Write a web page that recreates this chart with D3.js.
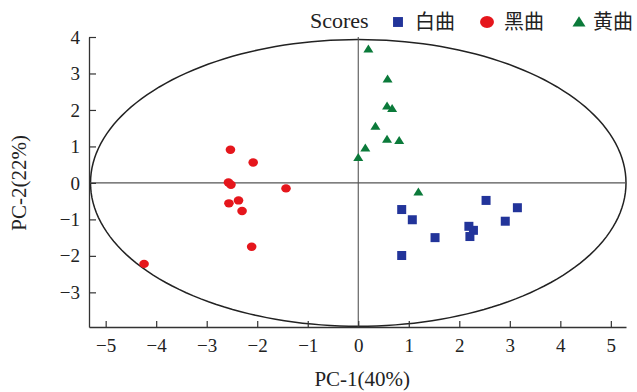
<!DOCTYPE html>
<html>
<head>
<meta charset="utf-8">
<script src="https://cdn.jsdelivr.net/npm/d3@7"></script>
<style>
  body { margin: 0; background: #fff; }
  text { font-family: "Liberation Serif", "Times New Roman", serif; fill: #222; }
  .cjk { font-family: "Noto Sans CJK SC", sans-serif; }
</style>
</head>
<body>
<div id="chart"></div>
<script>
// PCA score plot data
const groups = ['白曲', '黑曲', '黄曲'];
const colors = ['#22349a', '#e5161c', '#0b7a3a'];
const shapes = ['square', 'circle', 'triangle'];

// 白曲 (blue squares)
const baiX = [0.86, 1.07, 1.52, 0.86, 2.53, 3.15, 2.91, 2.19, 2.28, 2.21];
const baiY = [-0.73, -1.01, -1.50, -1.99, -0.48, -0.68, -1.05, -1.19, -1.30, -1.47];
// 黑曲 (red circles)
const heiX = [-2.53, -2.08, -2.57, -2.52, -1.43, -2.56, -2.37, -2.30, -2.11, -4.24];
const heiY = [0.91, 0.56, 0.01, -0.05, -0.15, -0.56, -0.48, -0.77, -1.75, -2.22];
// 黄曲 (green triangles)
const huangX = [0.20, 0.58, 0.57, 0.67, 0.34, 0.57, 0.81, 0.14, 0.00, 1.19];
const huangY = [3.67, 2.85, 2.11, 2.04, 1.55, 1.20, 1.16, 0.96, 0.70, -0.25];

const xTicks = [-5, -4, -3, -2, -1, 0, 1, 2, 3, 4, 5];
const yTicks = [-3, -2, -1, 0, 1, 2, 3, 4];
const xDomain = [-5.33, 5.3];
const yDomain = [-3.95, 4];
// Hotelling ellipse semi-axes (data units)
const ellipseRx = 5.3, ellipseRy = 3.93;

const width = 637, height = 392;
const margin = {top: 37, right: 11, bottom: 65, left: 89};

const svg = d3.select('#chart').append('svg')
  .attr('width', width)
  .attr('height', height);

const x = d3.scaleLinear().domain(xDomain).range([margin.left, width - margin.right]);
const y = d3.scaleLinear().domain(yDomain).range([height - margin.bottom, margin.top]);

const series = [
  {name: groups[0], xs: baiX, ys: baiY},
  {name: groups[1], xs: heiX, ys: heiY},
  {name: groups[2], xs: huangX, ys: huangY}
];

// ellipse
const ellipsePts = d3.range(0, 361, 2).map(a => {
  const t = a * Math.PI / 180;
  return [x(ellipseRx * Math.cos(t)), y(ellipseRy * Math.sin(t))];
});
svg.append('path')
  .attr('d', d3.line()(ellipsePts) + 'Z')
  .attr('fill', 'none')
  .attr('stroke', '#222')
  .attr('stroke-width', 1.5);

// zero lines
svg.append('line')
  .attr('x1', x.range()[0]).attr('x2', x.range()[1])
  .attr('y1', y(0)).attr('y2', y(0))
  .attr('stroke', '#555').attr('stroke-width', 1.1);
svg.append('line')
  .attr('x1', x(0)).attr('x2', x(0))
  .attr('y1', y.range()[0]).attr('y2', y.range()[1])
  .attr('stroke', '#555').attr('stroke-width', 1.1);

// axes (ticks point inward)
const xAxis = svg.append('g')
  .attr('transform', `translate(0,${height - margin.bottom})`)
  .call(d3.axisBottom(x).tickValues(xTicks).tickSizeInner(-6).tickSizeOuter(0).tickPadding(12));
const yAxis = svg.append('g')
  .attr('transform', `translate(${margin.left},0)`)
  .call(d3.axisLeft(y).tickValues(yTicks).tickSizeInner(-7).tickSizeOuter(0).tickPadding(9));

[xAxis, yAxis].forEach(ax => {
  ax.attr('font-family', null);
  ax.select('.domain').attr('stroke', '#333').attr('stroke-width', 1.3);
  ax.selectAll('.tick line').attr('stroke', '#333').attr('stroke-width', 1.2);
  ax.selectAll('.tick text')
    .style('font-family', '"Liberation Serif", serif')
    .style('font-size', '19px')
    .attr('fill', '#222');
});

// markers
function marker(sel, shape, color) {
  if (shape === 'square') {
    sel.append('rect').attr('x', -4.5).attr('y', -4.5).attr('width', 9).attr('height', 9).attr('fill', color);
  } else if (shape === 'circle') {
    sel.append('ellipse').attr('rx', 4.8).attr('ry', 4.2).attr('fill', color);
  } else {
    sel.append('path').attr('d', 'M0,-4.5L5,3.5L-5,3.5Z').attr('fill', color);
  }
}

series.forEach((s, i) => {
  const pts = s.xs.map((v, j) => [v, s.ys[j]]);
  svg.append('g').selectAll('g')
    .data(pts)
    .join('g')
    .attr('transform', d => `translate(${x(d[0])},${y(d[1])})`)
    .each(function () { marker(d3.select(this), shapes[i], colors[i]); });
});

// axis titles
svg.append('text')
  .attr('x', x(0) + 4).attr('y', 386)
  .attr('text-anchor', 'middle')
  .style('font-size', '21px')
  .text('PC-1(40%)');
svg.append('text')
  .attr('transform', `translate(26,${y(0)}) rotate(-90)`)
  .attr('text-anchor', 'middle')
  .style('font-size', '21px')
  .text('PC-2(22%)');

// legend
const legend = svg.append('g');
legend.append('text').attr('x', 310).attr('y', 28).style('font-size', '22px').text('Scores');
const legendX = [398, 487, 579];
groups.forEach((g, i) => {
  const item = legend.append('g').attr('transform', `translate(${legendX[i]},22)`);
  const m = item.append('g').attr('transform', i === 1 ? 'scale(1.45)' : i === 2 ? 'scale(1.3)' : 'scale(1.1)');
  marker(m, shapes[i], colors[i]);
  item.append('text').attr('class', 'cjk')
    .attr('x', i === 2 ? 14 : 17).attr('y', 7)
    .style('font-size', '20px')
    .text(g);
});
</script>
</body>
</html>
